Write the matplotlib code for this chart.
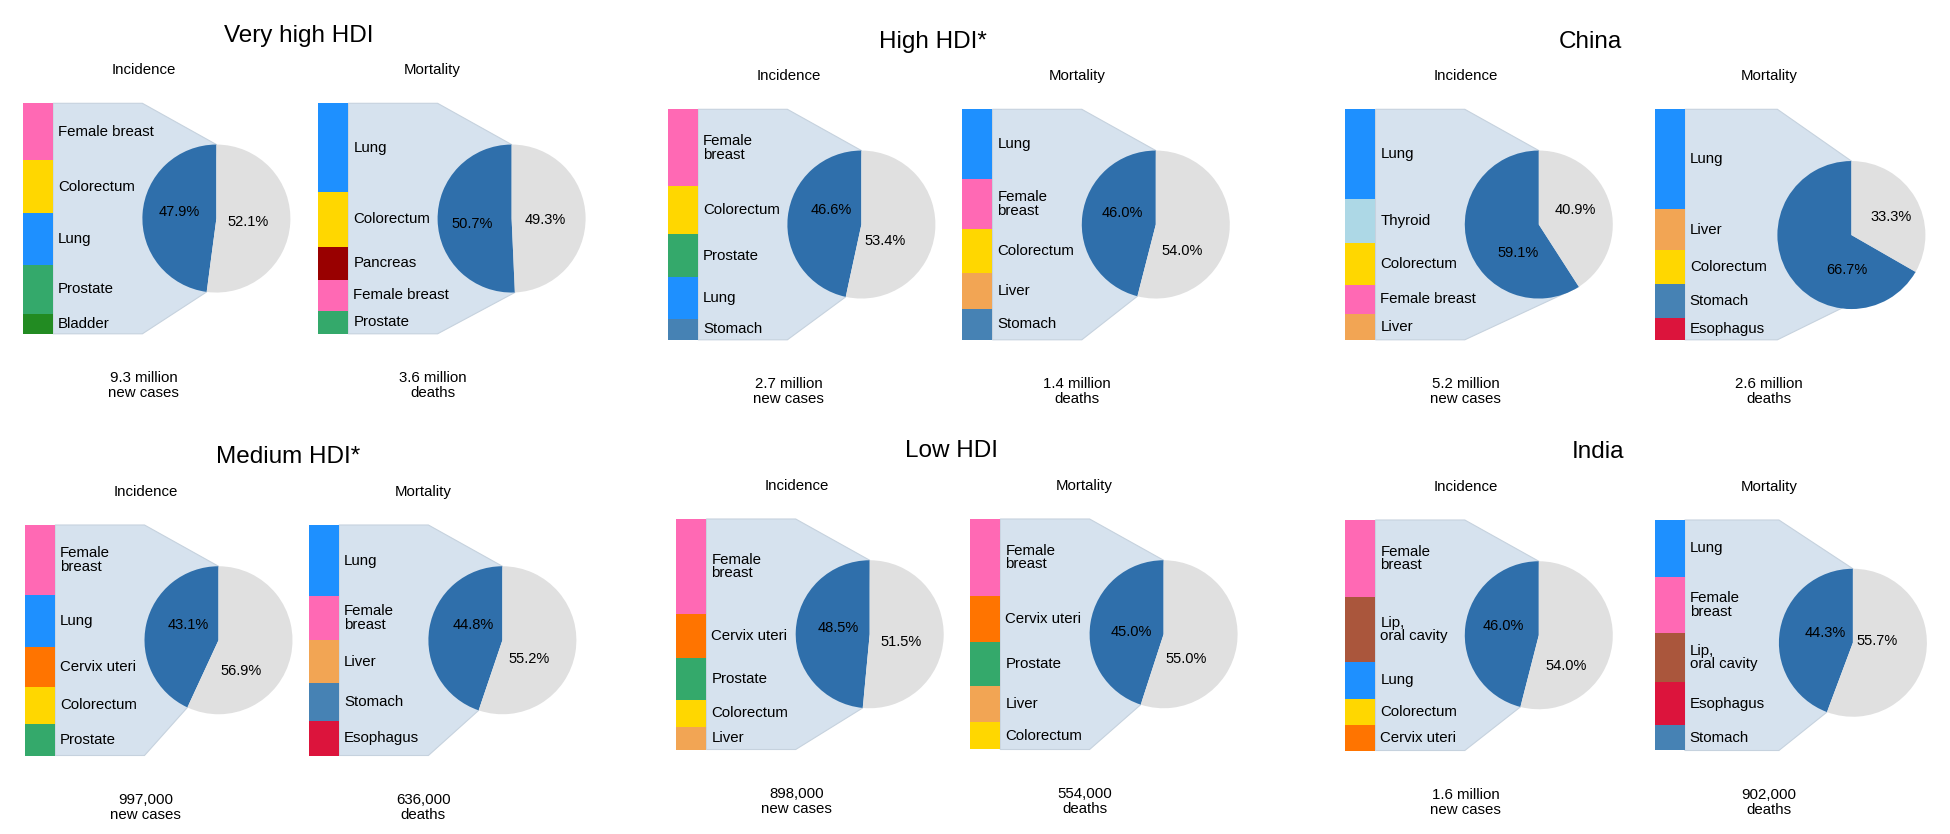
"""
Top five cancer sites for incidence and mortality by HDI level, China and India.
Each panel: stacked bar of the five sites, zoomed into a pie of their share.
"""
import numpy as np
import matplotlib.pyplot as plt
from matplotlib.patches import Polygon
from matplotlib.transforms import IdentityTransform

plt.rcParams["font.family"] = ["Liberation Sans", "DejaVu Sans"]

# ---- data (share of all cases / deaths, %) ----
regions = ["Very high HDI", "High HDI*", "China", "Medium HDI*", "Low HDI", "India"]

inc_sites = [
    ["Female breast", "Colorectum", "Lung", "Prostate", "Bladder"],
    ["Female\nbreast", "Colorectum", "Prostate", "Lung", "Stomach"],
    ["Lung", "Thyroid", "Colorectum", "Female breast", "Liver"],
    ["Female\nbreast", "Lung", "Cervix uteri", "Colorectum", "Prostate"],
    ["Female\nbreast", "Cervix uteri", "Prostate", "Colorectum", "Liver"],
    ["Female\nbreast", "Lip,\noral cavity", "Lung", "Colorectum", "Cervix uteri"],
]
inc_values = [
    [11.8, 11.0, 10.7, 10.3, 4.1],
    [15.6, 9.7, 8.7, 8.4, 4.2],
    [23.0, 11.2, 10.8, 7.4, 6.7],
    [13.1, 9.8, 7.3, 7.0, 5.9],
    [19.9, 9.4, 8.8, 5.6, 4.8],
    [15.3, 13.0, 7.4, 5.2, 5.1],
]
inc_share = [47.9, 46.6, 59.1, 43.1, 48.5, 46.0]
inc_total = ["9.3 million", "2.7 million", "5.2 million", "997,000", "898,000", "1.6 million"]

mort_sites = [
    ["Lung", "Colorectum", "Pancreas", "Female breast", "Prostate"],
    ["Lung", "Female\nbreast", "Colorectum", "Liver", "Stomach"],
    ["Lung", "Liver", "Colorectum", "Stomach", "Esophagus"],
    ["Lung", "Female\nbreast", "Liver", "Stomach", "Esophagus"],
    ["Female\nbreast", "Cervix uteri", "Prostate", "Liver", "Colorectum"],
    ["Lung", "Female\nbreast", "Lip,\noral cavity", "Esophagus", "Stomach"],
]
mort_values = [
    [19.5, 12.0, 7.3, 6.8, 5.1],
    [13.9, 10.0, 8.8, 7.1, 6.2],
    [28.9, 11.9, 9.8, 9.7, 6.4],
    [13.8, 8.6, 8.3, 7.4, 6.7],
    [15.0, 9.1, 8.5, 7.0, 5.4],
    [10.9, 10.8, 9.5, 8.2, 4.9],
]
mort_share = [50.7, 46.0, 66.7, 44.8, 45.0, 44.3]
mort_total = ["3.6 million", "1.4 million", "2.6 million", "636,000", "554,000", "902,000"]

site_colors = {
    "Female breast": "#ff69b4",
    "Colorectum": "#ffd700",
    "Lung": "#1e90ff",
    "Prostate": "#34a96b",
    "Bladder": "#228b22",
    "Pancreas": "#990000",
    "Stomach": "#4682b4",
    "Liver": "#f2a554",
    "Thyroid": "#add8e6",
    "Esophagus": "#dc143c",
    "Cervix uteri": "#ff7400",
    "Lip, oral cavity": "#aa563c",
}
DARK, GREY = "#2f6fab", "#e0e0e0"
ZOOM_FACE, ZOOM_EDGE = "#d6e2ee", "#c6d2de"

# ---- layout, in pixels from the top left ----
W, H = 1950, 834
# incidence bar left, mortality bar left, box top, title centre
groups = [
    (22.8, 318.0, 103.3, 298.5),
    (667.8, 962.2, 109.3, 933.2),
    (1345.2, 1654.5, 109.3, 1590.2),
    (24.9, 308.8, 525.0, 288.2),
    (676.1, 970.0, 519.0, 951.4),
    (1345.2, 1654.5, 520.0, 1597.6),
]
pie_nudge = {(2, 1): (3.3, 10.5), (5, 1): (4.8, 7.5)}
# percentage label spots inside each pie (radius units): top-5 slice, rest
pct_spots = {
    (0, 0): ((-0.50, 0.09), (0.43, -0.04)),
    (0, 1): ((-0.53, -0.07), (0.46, -0.02)),
    (1, 0): ((-0.41, 0.20), (0.32, -0.22)),
    (1, 1): ((-0.45, 0.16), (0.36, -0.36)),
    (2, 0): ((-0.28, -0.38), (0.49, 0.20)),
    (2, 1): ((-0.06, -0.47), (0.53, 0.25)),
    (3, 0): ((-0.41, 0.20), (0.30, -0.41)),
    (3, 1): ((-0.39, 0.20), (0.36, -0.25)),
    (4, 0): ((-0.42, 0.08), (0.43, -0.11)),
    (4, 1): ((-0.43, 0.03), (0.31, -0.33)),
    (5, 0): ((-0.48, 0.13), (0.37, -0.41)),
    (5, 1): ((-0.38, 0.13), (0.32, 0.02)),
}
BOX_H, BAR_W = 230.5, 30.3
PIE_DX, R = 193.6, 74.0
PAD = 1.05

fig = plt.figure(figsize=(W / 100, H / 100), dpi=100)


def px_axes(x, y, w, h):
    return fig.add_axes([x / W, 1 - (y + h) / H, w / W, h / H])


def panel(gi, kind, left, top, sites, vals, share, total):
    vals = np.asarray(vals)
    bottoms = np.concatenate([[0], np.cumsum(vals)[:-1]])
    bar = px_axes(left, top, BAR_W, BOX_H)
    bar.bar(np.zeros(len(vals)), vals, bottom=bottoms, width=1, linewidth=0,
            color=[site_colors[s.replace("\n", " ")] for s in sites])
    bar.set_xlim(-0.5, 0.5)
    bar.set_ylim(vals.sum(), 0)
    bar.axis("off")
    for s, b, v in zip(sites, bottoms, vals):
        bar.annotate(s, xy=(1, b + v / 2), xycoords=("axes fraction", "data"),
                     xytext=(3.6, 0), textcoords="offset points",
                     ha="left", va="center", fontsize=10.8, linespacing=0.95)

    dx, dy = pie_nudge.get((gi, kind), (0, 0))
    cx, cy = left + PIE_DX + dx, top + BOX_H / 2 + dy
    pie = px_axes(cx - R * PAD, cy - R * PAD, 2 * R * PAD, 2 * R * PAD)
    _, _, pct = pie.pie([share, 100 - share], colors=[DARK, GREY], startangle=90,
                        autopct="%.1f%%", pctdistance=0.5, wedgeprops=dict(linewidth=0),
                        textprops=dict(fontsize=10.5))
    for t, xy in zip(pct, pct_spots[(gi, kind)]):
        t.set_position(xy)
    pie.set_xlim(-PAD, PAD)
    pie.set_ylim(-PAD, PAD)
    pie.axis("off")

    # zoom connector between bar and pie
    x0, y_top = bar.transAxes.transform((1, 1))
    _, y_bot = bar.transAxes.transform((1, 0))
    td = pie.transData
    kx = td.transform((-1, 0))[0]
    theta = np.deg2rad(90 + 3.6 * share)
    pts = [(x0, y_top), (kx, y_top), td.transform((0, 1)),
           td.transform((np.cos(theta), np.sin(theta))), (kx, y_bot), (x0, y_bot)]
    fig.add_artist(Polygon(pts, closed=True, transform=IdentityTransform(),
                           facecolor=ZOOM_FACE, edgecolor=ZOOM_EDGE, lw=0.8, zorder=-1))

    hx = left + (120.6 if kind == 0 else 114.6)
    fig.text(hx / W, 1 - (top - 29.3) / H, ["Incidence", "Mortality"][kind],
             ha="center", va="baseline", fontsize=10.8)
    # baseline of the last line
    fig.text(hx / W, 1 - (top + BOX_H + 63.4) / H,
             total + "\n" + ["new cases", "deaths"][kind],
             ha="center", va="baseline", fontsize=10.8, linespacing=1.1)


for gi, (inc_left, mort_left, top, title_x) in enumerate(groups):
    fig.text(title_x / W, 1 - (top - 61.6) / H, regions[gi],
             ha="center", va="baseline", fontsize=17.5)
    panel(gi, 0, inc_left, top, inc_sites[gi], inc_values[gi], inc_share[gi], inc_total[gi])
    panel(gi, 1, mort_left, top, mort_sites[gi], mort_values[gi], mort_share[gi], mort_total[gi])

fig.savefig("out.png", dpi=100)
